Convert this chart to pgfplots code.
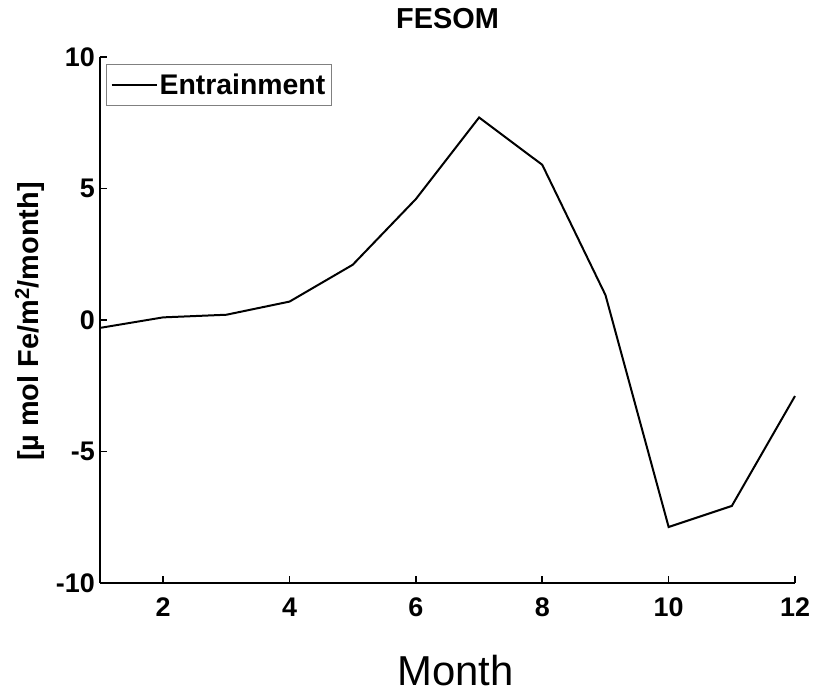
\documentclass[border=0pt]{standalone}
\usepackage{pgfplots}
\pgfplotsset{compat=1.18}
\usepackage{fontspec}
\setmainfont{Liberation Sans}
\begin{document}
\begin{tikzpicture}
\begin{axis}[
  scale only axis,
  width=695bp, height=526bp,
  xmin=1, xmax=12, ymin=-10, ymax=10,
  axis x line*=bottom, axis y line*=left,
  axis line style={line width=2bp},
  xtick={2,4,...,12}, ytick={-10,-5,0,5,10},
  tick align=inside, major tick length=7bp,
  tick style={line width=1.6bp, black},
  /pgf/number format/assume math mode=true,
  ticklabel style={font=\fontsize{27}{30}\selectfont\bfseries, inner sep=0pt},
  xticklabel style={anchor=base, yshift=-33bp},
  yticklabel style={anchor=east, xshift=-5bp},
  title={FESOM},
  title style={font=\fontsize{29}{32}\selectfont\bfseries,
    at={(axis description cs:0.5,1.0437)}, anchor=base},
  xlabel={Month},
  xlabel style={font=\fontsize{42}{46}\selectfont,
    at={(axis description cs:0.5115,-0.1958)}, anchor=base},
  ylabel={[µ mol Fe/m\textsuperscript{2}/month]},
  ylabel style={font=\fontsize{29}{32}\selectfont\bfseries,
    at={(axis description cs:-0.0892,0.497)}, anchor=base, rotate=0},
  legend style={at={(axis description cs:0.0086,0.9867)}, anchor=north west,
    draw=gray, line width=1.2bp, font=\fontsize{28.5}{31}\selectfont\bfseries,
    inner xsep=4bp, inner ysep=7.5bp},
  legend cell align=left,
  legend image code/.code={%
    \path (0bp,0bp) -- (45bp,0bp);
    \draw[line width=2bp, black] (2bp,0bp) -- (41bp,0bp);},
  clip=false,
]
\addplot[black, line width=2bp] coordinates {
  (1,-0.3) (2,0.1) (3,0.2) (4,0.7) (5,2.1) (6,4.6)
  (7,7.7) (8,5.9) (9,0.95) (10,-7.87) (11,-7.07) (12,-2.89)
};
\addlegendentry{Entrainment}
\end{axis}
\pgfresetboundingbox
\path[use as bounding box]
  ([shift={(-100bp,-112bp)}]current axis.south west)
  rectangle ([shift={(21bp,57bp)}]current axis.north east);
\end{tikzpicture}
\end{document}
